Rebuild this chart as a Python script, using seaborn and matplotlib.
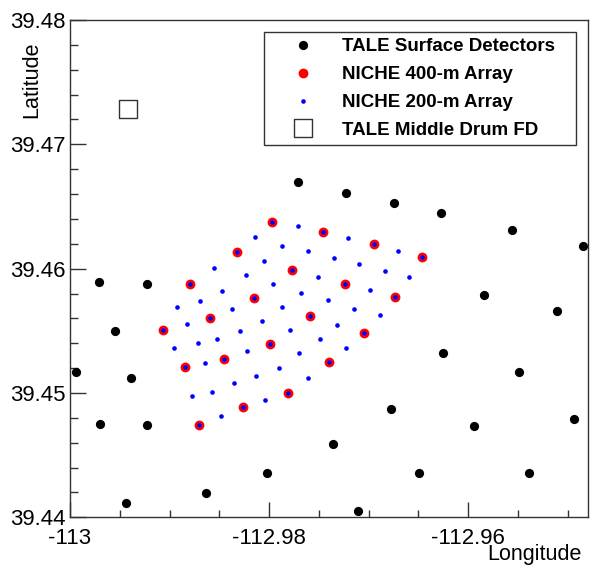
import matplotlib
matplotlib.use("Agg")
import matplotlib.pyplot as plt
import seaborn as sns
import pandas as pd
from matplotlib.ticker import MultipleLocator

# TALE surface detectors (lon, lat)
tale_lon = [-112.97709, -112.97230, -112.96749, -112.96270, -112.95558, -112.94842,
            -112.99706, -112.99230, -112.95845, -112.95110, -112.99545, -112.96254,
            -112.99943, -112.99391, -112.95484, -112.96772, -112.99694, -112.99230,
            -112.95943, -112.94935, -112.97358, -112.98020, -112.96495, -112.95384,
            -112.98635, -112.99441, -112.97107]
tale_lat = [39.46699, 39.46611, 39.46526, 39.46445, 39.46313, 39.46182,
            39.45895, 39.45874, 39.45790, 39.45657, 39.45501, 39.45321,
            39.45171, 39.45118, 39.45171, 39.44873, 39.44748, 39.44740,
            39.44737, 39.44791, 39.44589, 39.44354, 39.44359, 39.44359,
            39.44198, 39.44117, 39.44053]

# NICHE 400-m array
n400_lon = [-112.97970, -112.97458, -112.96949, -112.96468, -112.98321, -112.97772,
            -112.97240, -112.96732, -112.98799, -112.98154, -112.97585, -112.97050,
            -112.99064, -112.98592, -112.97993, -112.97401, -112.98843, -112.98452,
            -112.97809, -112.98261, -112.98702]
n400_lat = [39.46378, 39.46297, 39.46196, 39.46094, 39.46131, 39.45991,
            39.45876, 39.45769, 39.45879, 39.45761, 39.45617, 39.45482,
            39.45509, 39.45601, 39.45394, 39.45247, 39.45211, 39.45271,
            39.45000, 39.44885, 39.44742]

# NICHE 200-m array counters that are not in the 400-m array
n200_extra_lon = [-112.97712, -112.98144, -112.97203, -112.97873, -112.96709, -112.97612,
                  -112.98046, -112.97351, -112.97100, -112.98558, -112.98234, -112.97508,
                  -112.96839, -112.96598, -112.97963, -112.98475, -112.97679, -112.96990,
                  -112.98695, -112.97408, -112.98929, -112.98371, -112.97870, -112.97147,
                  -112.96889, -112.98823, -112.98073, -112.97314, -112.98294, -112.97789,
                  -112.98522, -112.98716, -112.97491, -112.98953, -112.97223, -112.98224,
                  -112.97695, -112.98645, -112.97903, -112.98130, -112.97605, -112.98357,
                  -112.98575, -112.98773, -112.98036, -112.98482]
n200_extra_lat = [39.46341, 39.46255, 39.46246, 39.46185, 39.46144, 39.46144,
                  39.46061, 39.46088, 39.46037, 39.46003, 39.45946, 39.45933,
                  39.45983, 39.45933, 39.45876, 39.45820, 39.45804, 39.45826,
                  39.45740, 39.45748, 39.45694, 39.45678, 39.45689, 39.45678,
                  39.45627, 39.45555, 39.45579, 39.45547, 39.45498, 39.45509,
                  39.45436, 39.45404, 39.45434, 39.45362, 39.45364, 39.45335,
                  39.45321, 39.45241, 39.45198, 39.45136, 39.45123, 39.45078,
                  39.45010, 39.44978, 39.44943, 39.44815]

# Middle Drum FD
md_lon = [-112.99415]
md_lat = [39.47282]

xticks = [-113.0, -112.98, -112.96]
xticklabels = ["-113", "-112.98", "-112.96"]
yticks = [39.44, 39.45, 39.46, 39.47, 39.48]
yticklabels = ["39.44", "39.45", "39.46", "39.47", "39.48"]

tale = pd.DataFrame({"lon": tale_lon, "lat": tale_lat})
n400 = pd.DataFrame({"lon": n400_lon, "lat": n400_lat})
n200 = pd.DataFrame({"lon": n400_lon + n200_extra_lon, "lat": n400_lat + n200_extra_lat})
md = pd.DataFrame({"lon": md_lon, "lat": md_lat})

sns.set_style("white")
plt.rcParams["font.family"] = ["Liberation Sans", "DejaVu Sans"]
plt.rcParams["text.color"] = "black"
plt.rcParams["axes.labelcolor"] = "black"
plt.rcParams["xtick.color"] = "black"
plt.rcParams["ytick.color"] = "black"

fig = plt.figure(figsize=(5.9, 5.72), dpi=100)
ax = fig.add_axes([70 / 590, 1 - 517.3 / 572, 517.5 / 590, 497.3 / 572])

sns.scatterplot(data=tale, x="lon", y="lat", color="black", s=44, linewidth=0,
                label="TALE Surface Detectors", ax=ax)
sns.scatterplot(data=n400, x="lon", y="lat", color="#ff0000", s=50, linewidth=0,
                label="NICHE 400-m Array", ax=ax)
sns.scatterplot(data=n200, x="lon", y="lat", color="#0000ff", s=11, linewidth=0,
                label="NICHE 200-m Array", ax=ax)
sns.scatterplot(data=md, x="lon", y="lat", marker="s", s=170, facecolor="none",
                edgecolor="#333333", linewidth=1.0, label="TALE Middle Drum FD", ax=ax)

ax.set_xlim(-113.0, -112.948)
ax.set_ylim(39.44, 39.48)

ax.set_xticks(xticks)
ax.set_xticklabels(xticklabels)
ax.set_yticks(yticks)
ax.set_yticklabels(yticklabels)
ax.xaxis.set_minor_locator(MultipleLocator(0.005))
ax.yaxis.set_minor_locator(MultipleLocator(0.002))
ax.tick_params(which="both", direction="in", color="#333333", width=1,
               bottom=True, left=True, top=False, right=False,
               labelcolor="black", labelsize=16)
ax.tick_params(axis="x", which="major", length=10.5, pad=7.5)
ax.tick_params(axis="x", which="minor", length=5.2)
ax.tick_params(axis="y", which="major", length=11.5, pad=3.5)
ax.tick_params(axis="y", which="minor", length=5.8)

for sp in ax.spines.values():
    sp.set_color("#333333")
    sp.set_linewidth(1)

ax.set_xlabel("Longitude", fontsize=15.5, loc="right", color="black")
ax.set_ylabel("Latitude", fontsize=15.5, loc="top", color="black")
ax.xaxis.set_label_coords(0.9888, -0.0545)
ax.yaxis.set_label_coords(-0.054, 0.9558)

leg = ax.legend(loc="upper left", bbox_to_anchor=(0.3749, 0.7507, 0.6029, 0.2252),
                mode="expand", borderaxespad=0, fancybox=False, framealpha=1,
                edgecolor="#333333", prop={"size": 13.5, "weight": "bold"},
                handlelength=3.48, handletextpad=0.34, borderpad=0.34,
                labelspacing=0.57, scatteryoffsets=[0.5])
leg.get_frame().set_linewidth(1)
for t in leg.get_texts():
    t.set_color("black")

fig.savefig("out.png", dpi=100)
